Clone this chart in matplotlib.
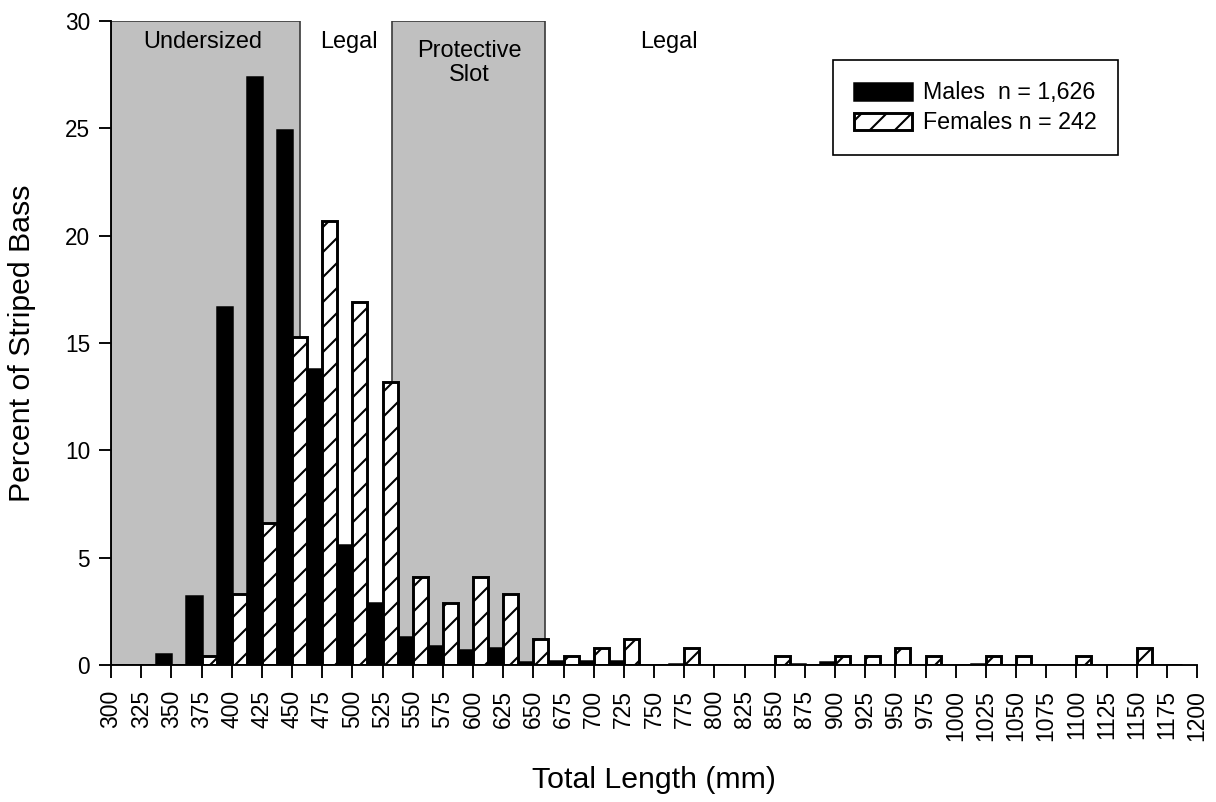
import matplotlib
matplotlib.use("Agg")
import matplotlib.pyplot as plt
from matplotlib.patches import Patch
import numpy as np

# length bins (mm, lower tick of each pair) and percent of fish in each bin
bins = np.arange(300, 1200, 25)
males = [0, 0, 0.5, 3.2, 16.7, 27.4, 24.9, 13.8, 5.6, 2.9,
         1.3, 0.9, 0.7, 0.8, 0.12, 0.18, 0.18, 0.18, 0, 0.06,
         0, 0, 0, 0.06, 0.12, 0, 0, 0, 0, 0.06,
         0, 0, 0, 0, 0, 0]
females = [0, 0, 0, 0.4, 3.3, 6.6, 15.3, 20.7, 16.9, 13.2,
           4.1, 2.9, 4.1, 3.3, 1.2, 0.4, 0.8, 1.2, 0, 0.8,
           0, 0, 0.4, 0, 0.4, 0.4, 0.8, 0.4, 0, 0.4,
           0.4, 0, 0.4, 0, 0.8, 0]

# regulation zones (mm)
undersized = (300, 457)
slot = (533, 660)

xticks = np.arange(300, 1201, 25)
yticks = np.arange(0, 31, 5)

plt.rcParams['font.family'] = ['Liberation Sans', 'DejaVu Sans']
plt.rcParams['hatch.linewidth'] = 1.0

fig = plt.figure(figsize=(1216 / 150, 802 / 150), dpi=150)
ax = fig.add_axes([111 / 1216, 137 / 802, 1086 / 1216, 644 / 802])

# shaded zones
for lo, hi in (undersized, slot):
    ax.axvspan(lo, hi, ymin=0, ymax=1, facecolor='#c0c0c0', edgecolor='#3a3a3a',
               lw=0.8, zorder=0)

w = 12.5
ax.bar(bins - w / 2, males, width=w, color='black', edgecolor='black', lw=1.2, zorder=2)
ax.bar(bins + w / 2, females, width=w, color='white', edgecolor='black', lw=1.4,
       hatch='//', zorder=2)

# zone labels
ax.text(376, 29.0, 'Undersized', ha='center', va='center', fontsize=11.3)
ax.text(497, 29.0, 'Legal', ha='center', va='center', fontsize=11.3)
ax.text(597, 28.05, 'Protective\nSlot', ha='center', va='center', fontsize=11.3,
        linespacing=1.15)
ax.text(762, 29.0, 'Legal', ha='center', va='center', fontsize=11.3)

ax.set_xlim(300, 1200)
ax.set_ylim(0, 30)
ax.set_xticks(xticks)
ax.set_xticklabels([str(t) for t in xticks], rotation=90, fontsize=11)
ax.set_yticks(yticks)
ax.set_yticklabels([str(t) for t in yticks], fontsize=10.8)
ax.tick_params(axis='both', direction='out', length=6, width=0.9, colors='black')
ax.tick_params(axis='x', pad=6)
ax.tick_params(axis='y', pad=4)

for s in ('top', 'right'):
    ax.spines[s].set_visible(False)
for s in ('left', 'bottom'):
    ax.spines[s].set_linewidth(0.9)

ax.set_xlabel('Total Length (mm)', fontsize=14.5, labelpad=12)
ax.set_ylabel('Percent of Striped Bass', fontsize=14.5, labelpad=14)

handles = [Patch(facecolor='black', edgecolor='black', lw=1.2),
           Patch(facecolor='white', edgecolor='black', lw=1.4, hatch='//')]
leg = ax.legend(handles, ['Males  n = 1,626', 'Females n = 242'],
                loc='upper right', bbox_to_anchor=(0.927, 0.939), fontsize=11.2,
                frameon=True, fancybox=False, framealpha=1, edgecolor='black',
                handlelength=2.5, handleheight=0.75, handletextpad=0.45,
                borderpad=0.9, labelspacing=0.3, borderaxespad=0)
leg.get_frame().set_linewidth(0.8)

fig.savefig('out.png', dpi=150, facecolor='white')
